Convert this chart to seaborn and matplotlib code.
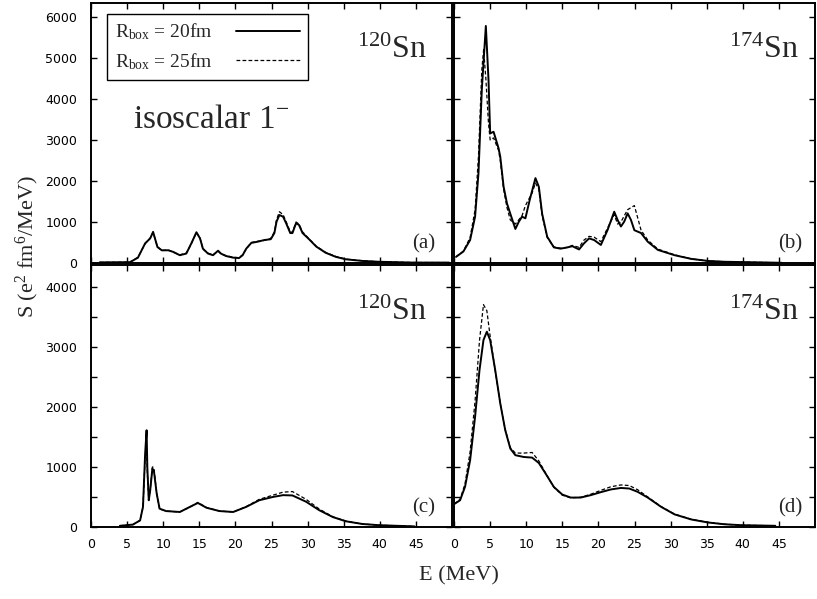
import numpy as np
import pandas as pd
import matplotlib
matplotlib.use('Agg')
import matplotlib.pyplot as plt
import seaborn as sns
from matplotlib.ticker import MultipleLocator, FixedLocator, NullFormatter

# ---------------- data ----------------
# panel (a): 120Sn, top
a_e_solid = [1.2, 5.4, 6.5, 7.5, 8.2, 8.6, 9.2, 9.8, 10.7, 11.4, 12.3, 13.2, 13.9, 14.6, 15.1,
             15.5, 16.2, 16.9, 17.6, 18.0, 18.7, 19.7, 20.5, 21.0, 21.5, 22.2, 23.1, 24.0, 24.9, 25.4,
             25.7, 26.1, 26.6, 27.0, 27.6, 27.9, 28.4, 28.8, 29.3, 30.2, 31.2, 32.5, 33.9, 35.3, 37.6,
             39.9, 44.5, 49.6]
a_s_solid = [15, 20, 130, 480, 600, 760, 390, 310, 310, 270, 190, 230, 480, 750, 600,
             350, 230, 190, 300, 230, 170, 130, 120, 190, 350, 490, 520, 560, 580, 730,
             1010, 1170, 1130, 980, 730, 730, 970, 930, 730, 580, 400, 250, 150, 90, 50,
             30, 10, 10]
a_e_dash = a_e_solid
a_s_dash = [15, 20, 140, 470, 610, 740, 400, 300, 320, 260, 200, 240, 470, 740, 610,
            340, 240, 200, 290, 220, 180, 140, 130, 200, 340, 500, 530, 550, 600, 760,
            1060, 1250, 1180, 1020, 760, 750, 1000, 950, 760, 590, 410, 260, 160, 95, 55,
            30, 12, 10]

# panel (b): 174Sn, top
b_e_solid = [0.28, 1.30, 2.23, 2.92, 3.39, 3.85, 4.41, 4.78, 5.01, 5.48, 6.17, 6.41, 6.87, 7.34, 7.80,
             8.50, 8.96, 9.42, 9.89, 10.49, 11.28, 11.75, 12.21, 12.91, 13.84, 14.76, 15.69, 16.39, 17.32,
             18.01, 18.71, 19.41, 20.34, 21.26, 22.19, 22.66, 23.12, 23.58, 24.05, 24.51, 24.98, 25.91,
             26.83, 28.23, 30.55, 32.87, 35.19, 37.51, 45.4]
b_s_solid = [150, 280, 560, 1130, 2190, 4220, 5780, 4460, 3160, 3200, 2800, 2590, 1860, 1450, 1200,
             830, 1000, 1130, 1090, 1540, 2070, 1860, 1200, 640, 380, 350, 380, 410, 330,
             480, 600, 560, 440, 800, 1250, 1050, 890, 1010, 1210, 1050, 800, 730,
             520, 320, 190, 100, 50, 30, 5]
b_e_dash = [0.28, 1.30, 2.23, 2.92, 3.39, 3.85, 4.10, 4.41, 4.78, 5.01, 5.48, 6.17, 6.41, 6.87, 7.34,
            7.80, 8.50, 8.96, 9.42, 9.89, 10.49, 10.80, 11.28, 11.75, 12.21, 12.91, 13.84, 14.76, 15.69,
            16.39, 17.32, 18.01, 18.71, 19.41, 20.34, 21.26, 22.19, 22.66, 23.12, 23.58, 24.05, 24.51,
            24.98, 25.91, 26.83, 28.23, 30.55, 32.87, 35.19, 37.51, 45.4]
b_s_dash = [150, 290, 620, 1300, 2600, 4700, 5200, 4500, 3400, 3000, 3050, 2750, 2500, 1800, 1350,
            1050, 950, 1050, 1150, 1400, 1600, 1700, 1950, 1800, 1150, 620, 390, 360, 380,
            430, 380, 560, 650, 630, 520, 850, 1180, 950, 1000, 1150, 1300, 1350,
            1400, 800, 560, 340, 200, 100, 50, 30, 5]

# panel (c): 120Sn, bottom
c_e_solid = [4.0, 5.8, 6.8, 7.2, 7.5, 7.7, 7.8, 8.0, 8.2, 8.5, 8.7, 9.1, 9.5, 10.4, 12.3,
             13.7, 14.8, 16.0, 17.8, 19.7, 21.5, 23.3, 25.2, 26.6, 27.9, 29.8, 31.6, 33.5, 35.3, 37.6,
             39.9, 44.8]
c_s_solid = [20, 40, 110, 335, 1225, 1610, 1000, 445, 610, 970, 945, 555, 305, 265, 250,
             335, 400, 320, 265, 250, 335, 445, 500, 530, 525, 420, 280, 165, 95, 50,
             30, 10]
c_e_dash = c_e_solid
c_s_dash = [20, 40, 110, 330, 1150, 1250, 900, 460, 620, 1000, 990, 560, 300, 265, 250,
            330, 410, 325, 265, 250, 340, 460, 530, 580, 590, 460, 300, 170, 100, 50,
            30, 10]

# panel (d): 174Sn, bottom
d_e_solid = [0.0, 0.84, 1.53, 2.23, 2.92, 3.53, 4.08, 4.55, 5.01, 5.71, 6.41, 7.10, 7.80, 8.50, 9.66,
             10.82, 11.75, 12.68, 13.84, 15.0, 16.16, 17.55, 18.94, 20.34, 21.73, 23.12, 24.28, 25.44,
             26.83, 28.69, 30.55, 32.87, 35.19, 37.51, 39.83, 44.5]
d_s_solid = [380, 445, 670, 1110, 1835, 2610, 3110, 3250, 3110, 2610, 2055, 1610, 1305, 1195, 1165,
             1155, 1065, 890, 665, 540, 490, 490, 530, 580, 625, 650, 640, 585,
             490, 335, 210, 125, 75, 45, 30, 20]
d_e_dash = d_e_solid
d_s_dash = [380, 460, 720, 1250, 2100, 3100, 3700, 3600, 3170, 2600, 2050, 1620, 1320, 1230, 1230,
            1240, 1100, 900, 660, 530, 485, 495, 545, 610, 670, 700, 690, 620,
            500, 340, 215, 128, 78, 46, 30, 20]

series_labels = [r'R$_{\rm box}$ = 20fm', r'R$_{\rm box}$ = 25fm']
nucleus_labels = [r'$^{120}$Sn', r'$^{174}$Sn', r'$^{120}$Sn', r'$^{174}$Sn']
panel_tags = ['(a)', '(b)', '(c)', '(d)']
x_ticks = [0, 5, 10, 15, 20, 25, 30, 35, 40, 45]
y_ticks_top = [0, 1000, 2000, 3000, 4000, 5000, 6000]
y_ticks_bot = [0, 1000, 2000, 3000, 4000]

# ---------------- style ----------------
sns.set_theme(style='ticks')
plt.rcParams['font.family'] = ['DejaVu Sans']
plt.rcParams['mathtext.fontset'] = 'custom'
plt.rcParams['mathtext.rm'] = 'Liberation Serif'
plt.rcParams['mathtext.it'] = 'Liberation Serif:italic'
plt.rcParams['mathtext.bf'] = 'Liberation Serif:bold'
SERIF = 'Liberation Serif'

W, H = 817, 599
fig = plt.figure(figsize=(W / 100, H / 100), dpi=100)
fig.patch.set_facecolor('white')


def ax_at(l, t, r, b):
    return fig.add_axes([l / W, 1 - b / H, (r - l) / W, (b - t) / H])


ax_a = ax_at(91, 3, 452, 263)
ax_b = ax_at(454, 3, 815, 263)
ax_c = ax_at(91, 265, 452, 527)
ax_d = ax_at(454, 265, 815, 527)
axes = [ax_a, ax_b, ax_c, ax_d]

data = [(a_e_solid, a_s_solid, a_e_dash, a_s_dash),
        (b_e_solid, b_s_solid, b_e_dash, b_s_dash),
        (c_e_solid, c_s_solid, c_e_dash, c_s_dash),
        (d_e_solid, d_s_solid, d_e_dash, d_s_dash)]

for i, (ax, (es, ss, ed, sd)) in enumerate(zip(axes, data)):
    ax.set_facecolor('white')
    df_d = pd.DataFrame({'E': ed, 'S': sd})
    df_s = pd.DataFrame({'E': es, 'S': ss})
    sns.lineplot(data=df_d, x='E', y='S', ax=ax, color='black', lw=0.9,
                 estimator=None, sort=False)
    ax.lines[-1].set_linestyle((0, (3, 1.8)))
    sns.lineplot(data=df_s, x='E', y='S', ax=ax, color='black', lw=1.4,
                 estimator=None, sort=False)
    ax.set_xlim(0, 50)
    top = i < 2
    ax.set_ylim(0, 6340 if top else 4360)
    ax.xaxis.set_major_locator(FixedLocator(x_ticks))
    if top:
        ax.yaxis.set_major_locator(FixedLocator(y_ticks_top))
    else:
        ax.yaxis.set_major_locator(FixedLocator(y_ticks_bot))
        ax.yaxis.set_minor_locator(MultipleLocator(500))
    ax.tick_params(which='both', direction='in', top=True, right=True, length=4.5, width=1,
                   labelsize=9, colors='black')
    ax.tick_params(axis='y', pad=10)
    ax.tick_params(axis='x', pad=8)
    if top:
        ax.tick_params(axis='x', labelbottom=False)
    if i % 2 == 1:
        ax.tick_params(axis='y', labelleft=False)
    ax.set_xlabel('')
    ax.set_ylabel('')
    for sp in ax.spines.values():
        sp.set_visible(True)
        sp.set_color('black')
        sp.set_linewidth(1.4)

    # nucleus label
    xr = 0.93 if i % 2 == 0 else 0.956
    ax.text(xr, 0.79, nucleus_labels[i], transform=ax.transAxes, ha='right', va='baseline',
            fontsize=23, family=SERIF)
    # panel tag
    xt = 0.953 if i % 2 == 0 else 0.964
    ax.text(xt, 0.055, panel_tags[i], transform=ax.transAxes, ha='right', va='baseline',
            fontsize=15, family=SERIF)

# legend in panel (a)
dash_line, solid_line = ax_a.lines[0], ax_a.lines[1]
leg = ax_a.legend(handles=[solid_line, dash_line], labels=series_labels, markerfirst=False,
                  loc='upper left', bbox_to_anchor=(16 / 361, 1 - 11 / 260), borderaxespad=0,
                  frameon=True, fancybox=False, edgecolor='black', framealpha=1,
                  prop={'family': SERIF, 'size': 14}, handlelength=3.3, labelspacing=0.45,
                  borderpad=0.4, handletextpad=1.2)
leg.get_frame().set_linewidth(1.0)

ax_a.text(0.116, 0.52, r'isoscalar 1$^{-}$', transform=ax_a.transAxes, ha='left', va='baseline',
          fontsize=24, family=SERIF)

fig.text(0.033, 0.588, r'S (e$^{2}$ fm$^{6}$/MeV)', rotation=90, ha='center', va='center',
         fontsize=16, family=SERIF)
fig.text(459 / W, 1 - 576 / H, 'E (MeV)', ha='center', va='center', fontsize=16, family=SERIF)

fig.savefig('out.png', dpi=100, facecolor='white')
